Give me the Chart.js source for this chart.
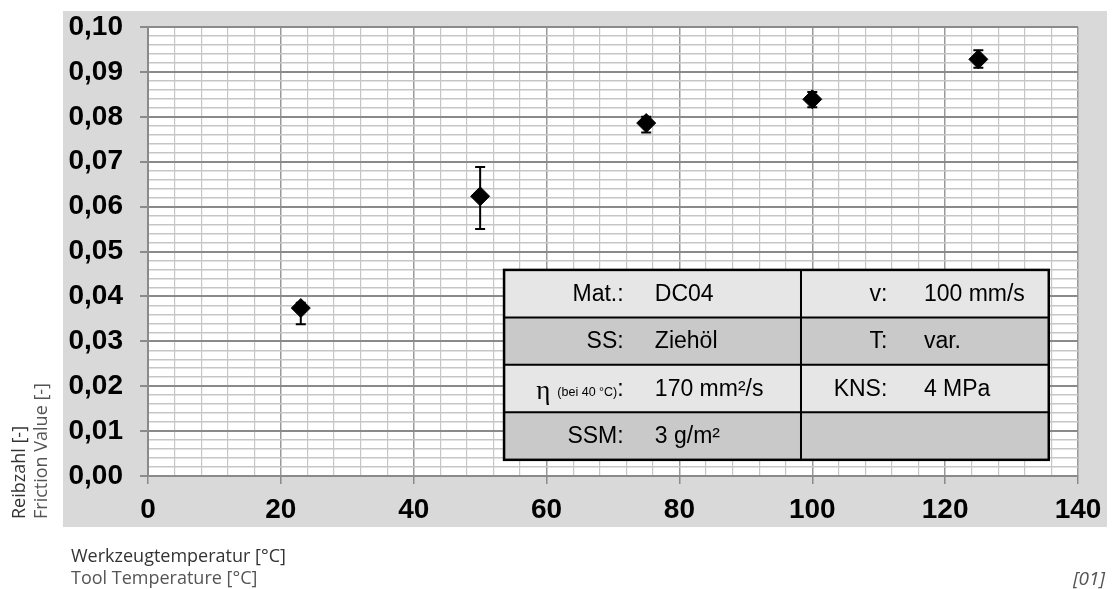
<!DOCTYPE html>
<html>
<head>
<meta charset="utf-8">
<script src="https://cdn.jsdelivr.net/npm/chart.js@4/dist/chart.umd.min.js"></script>
<style>
  html, body { margin: 0; padding: 0; background: #fff; }
  #wrap { width: 1113px; height: 589px; }
</style>
</head>
<body>
<div id="wrap"><canvas id="frictionChart" width="1113" height="589"></canvas></div>
<script>
// Werkzeugtemperatur [°C]
var temps = [23, 50, 75, 100, 125];
// Reibzahl (Mittelwert) und Streubereich
var friction = [0.0374, 0.0623, 0.0786, 0.0839, 0.0928];
var frictionLow = [0.0338, 0.0550, 0.0765, 0.0821, 0.0909];
var frictionHigh = [0.0386, 0.0688, 0.0800, 0.0855, 0.0948];

// beschriftete Hauptteilungen
var xTickLabels = ['0', '20', '40', '60', '80', '100', '120', '140'];
var yTickLabels = ['0,00', '0,01', '0,02', '0,03', '0,04', '0,05', '0,06', '0,07', '0,08', '0,09', '0,10'];

// Versuchsparameter (Tabelle im Diagramm)
var paramLabels = [['Mat.:', 'v:'], ['SS:', 'T:'], ['η', 'KNS:'], ['SSM:', '']];
var paramValues = [['DC04', '100 mm/s'], ['Ziehöl', 'var.'], ['170 mm²/s', '4 MPa'], ['3 g/m²', '']];

var axisFont = 'Liberation Sans, Arial, sans-serif';
var titleFont = '"Open Sans", "Noto Sans", sans-serif';

function isMajorY(v) { return Math.round(v * 1000) % 10 === 0; }
function isMajorX(v) { return Math.round(v) % 20 === 0; }

// grauer Hintergrund + weisse Zeichenflaeche
var panelPlugin = {
    id: 'panel',
    beforeDraw: function(chart) {
        var ctx = chart.ctx, a = chart.chartArea;
        ctx.save();
        ctx.fillStyle = '#d9d9d9';
        ctx.fillRect(63, 11, 1044, 516);
        ctx.fillStyle = '#ffffff';
        ctx.fillRect(a.left, a.top, a.right - a.left, a.bottom - a.top);
        ctx.restore();
    }
};

// Fehlerbalken
var errorBarPlugin = {
    id: 'errorBars',
    beforeDatasetsDraw: function(chart) {
        var ctx = chart.ctx, xs = chart.scales.x, ys = chart.scales.y;
        ctx.save();
        ctx.strokeStyle = '#000';
        ctx.lineWidth = 2;
        for (var i = 0; i < temps.length; i++) {
            var px = xs.getPixelForValue(temps[i]);
            var lo = ys.getPixelForValue(frictionLow[i]);
            var hi = ys.getPixelForValue(frictionHigh[i]);
            ctx.beginPath();
            ctx.moveTo(px, lo); ctx.lineTo(px, hi);
            ctx.moveTo(px - 5, lo); ctx.lineTo(px + 5, lo);
            ctx.moveTo(px - 5, hi); ctx.lineTo(px + 5, hi);
            ctx.stroke();
        }
        ctx.restore();
    }
};

// Parametertabelle
var tablePlugin = {
    id: 'paramTable',
    afterDatasetsDraw: function(chart) {
        var ctx = chart.ctx, xs = chart.scales.x, ys = chart.scales.y;
        var left = xs.getPixelForValue(53.6), right = xs.getPixelForValue(135.6);
        var mid = xs.getPixelForValue(98.3);
        var top = ys.getPixelForValue(0.0459), bottom = ys.getPixelForValue(0.0036);
        var labelEnd = [xs.getPixelForValue(71.6), xs.getPixelForValue(111.3)];
        var valueStart = [xs.getPixelForValue(76.3), xs.getPixelForValue(116.8)];
        var rows = paramLabels.length;
        var rh = (bottom - top) / rows;
        ctx.save();
        for (var r = 0; r < rows; r++) {
            ctx.fillStyle = r % 2 === 0 ? '#e6e6e6' : '#c9c9c9';
            ctx.fillRect(left, top + r * rh, right - left, rh);
        }
        ctx.strokeStyle = '#000';
        ctx.lineWidth = 2;
        ctx.beginPath();
        for (var r2 = 1; r2 < rows; r2++) {
            ctx.moveTo(left, top + r2 * rh); ctx.lineTo(right, top + r2 * rh);
        }
        ctx.moveTo(mid, top); ctx.lineTo(mid, bottom);
        ctx.stroke();
        ctx.lineWidth = 2.5;
        ctx.strokeRect(left, top, right - left, bottom - top);

        ctx.fillStyle = '#000';
        ctx.textBaseline = 'middle';
        for (var r3 = 0; r3 < rows; r3++) {
            var cy = top + (r3 + 0.5) * rh + 1;
            for (var c = 0; c < 2; c++) {
                var lab = paramLabels[r3][c];
                ctx.font = '23px ' + axisFont;
                if (lab === 'η') {
                    // eta mit kleinem Zusatz "(bei 40 °C)"
                    ctx.textAlign = 'right';
                    ctx.fillText(':', labelEnd[c], cy);
                    var w = ctx.measureText(':').width;
                    ctx.font = '12.5px ' + axisFont;
                    ctx.fillText('(bei 40 °C)', labelEnd[c] - w, cy + 3);
                    var w2 = ctx.measureText('(bei 40 °C)').width + 7;
                    ctx.font = '27px "Liberation Serif", serif';
                    ctx.fillText('η', labelEnd[c] - w - w2, cy + 2);
                } else if (lab) {
                    ctx.textAlign = 'right';
                    ctx.fillText(lab, labelEnd[c], cy);
                }
                ctx.font = '23px ' + axisFont;
                ctx.textAlign = 'left';
                if (paramValues[r3][c]) ctx.fillText(paramValues[r3][c], valueStart[c], cy);
            }
        }
        ctx.restore();
    }
};

// Achsentitel und Quellenangabe
var titlesPlugin = {
    id: 'titles',
    afterDraw: function(chart) {
        var ctx = chart.ctx;
        ctx.save();
        ctx.font = '18px ' + titleFont;
        ctx.textBaseline = 'middle';
        ctx.textAlign = 'left';
        ctx.fillStyle = '#333333';
        ctx.fillText('Werkzeugtemperatur [°C]', 71, 557);
        ctx.fillStyle = '#555555';
        ctx.fillText('Tool Temperature [°C]', 71, 579);

        ctx.translate(0, 519);
        ctx.rotate(-Math.PI / 2);
        ctx.fillStyle = '#333333';
        ctx.fillText('Reibzahl [-]', 0, 20);
        ctx.fillStyle = '#555555';
        ctx.fillText('Friction Value [-]', 0, 42);
        ctx.restore();

        ctx.save();
        ctx.font = 'italic 19px ' + titleFont;
        ctx.fillStyle = '#555555';
        ctx.textAlign = 'right';
        ctx.textBaseline = 'middle';
        ctx.fillText('[01]', 1105, 580);
        ctx.restore();
    }
};

var points = temps.map(function(t, i) { return { x: t, y: friction[i] }; });

var ctx = document.getElementById('frictionChart').getContext('2d');
var chart = new Chart(ctx, {
    type: 'scatter',
    data: {
        datasets: [{
            label: 'Reibzahl',
            data: points,
            pointStyle: 'rectRot',
            pointRadius: 9.5,
            pointHoverRadius: 9.5,
            backgroundColor: '#000',
            borderColor: '#000',
            borderWidth: 1
        }]
    },
    options: {
        responsive: false,
        animation: false,
        devicePixelRatio: 1,
        layout: { padding: { left: 63, top: 27, right: 35, bottom: 63 } },
        plugins: {
            legend: { display: false },
            tooltip: { enabled: false }
        },
        scales: {
            x: {
                type: 'linear',
                min: 0,
                max: 140,
                afterFit: function(s) { s.height = 50; },
                ticks: {
                    stepSize: 4,
                    autoSkip: false,
                    maxRotation: 0,
                    padding: 9,
                    color: '#000',
                    font: { family: axisFont, size: 28, weight: 'bold' },
                    callback: function(v) { return isMajorX(v) ? xTickLabels[Math.round(v / 20)] : ''; }
                },
                grid: {
                    color: function(c) { return isMajorX(c.tick.value) ? '#999999' : '#c6c6c6'; },
                    lineWidth: function(c) { return isMajorX(c.tick.value) ? 1.5 : 1.2; },
                    tickLength: 8,
                    tickColor: function(c) { return isMajorX(c.tick.value) ? '#8a8a8a' : 'rgba(0,0,0,0)'; }
                },
                border: { color: '#8a8a8a', width: 2 }
            },
            y: {
                min: 0,
                max: 0.1,
                afterFit: function(s) {
                    s.width = 85;
                    s.paddingTop = 0;
                    s.paddingBottom = 0;
                },
                ticks: {
                    stepSize: 0.002,
                    autoSkip: false,
                    padding: 17,
                    color: '#000',
                    font: { family: axisFont, size: 28, weight: 'bold' },
                    callback: function(v) { return isMajorY(v) ? yTickLabels[Math.round(v * 100)] : ''; }
                },
                grid: {
                    color: function(c) { return isMajorY(c.tick.value) ? '#8a8a8a' : '#c6c6c6'; },
                    lineWidth: function(c) { return isMajorY(c.tick.value) ? 2 : 1.5; },
                    tickLength: 8,
                    tickColor: function(c) { return isMajorY(c.tick.value) ? '#8a8a8a' : 'rgba(0,0,0,0)'; }
                },
                border: { color: '#8a8a8a', width: 2 }
            }
        }
    },
    plugins: [panelPlugin, errorBarPlugin, tablePlugin, titlesPlugin]
});
</script>
</body>
</html>
